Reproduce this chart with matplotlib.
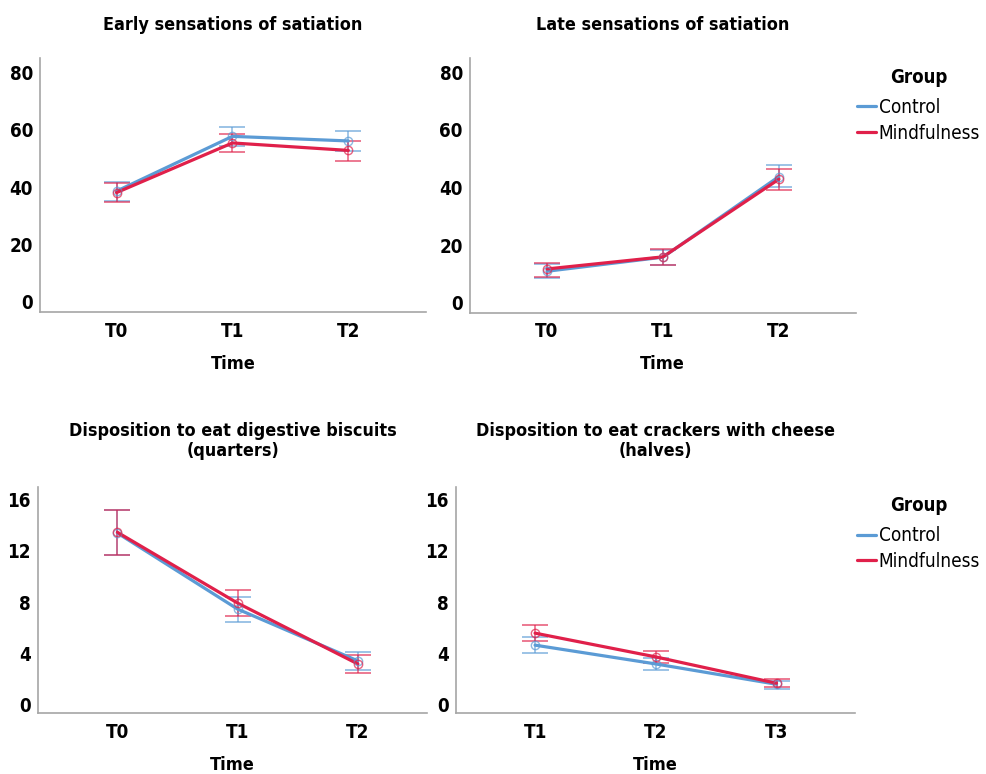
import matplotlib
matplotlib.use("Agg")
import matplotlib.pyplot as plt
from matplotlib import font_manager

# ---------------- data ----------------
times_a = ["T0", "T1", "T2"]
times_b = ["T1", "T2", "T3"]
groups = ["Control", "Mindfulness"]

early_control = [38.6, 57.7, 56.1]
early_control_lo = [35.1, 54.4, 52.5]
early_control_hi = [41.7, 61.0, 59.7]
early_mind = [38.1, 55.4, 52.8]
early_mind_lo = [34.8, 52.1, 49.0]
early_mind_hi = [41.5, 58.4, 56.2]

late_control = [10.9, 15.8, 43.8]
late_control_lo = [8.6, 13.2, 40.1]
late_control_hi = [13.5, 18.4, 47.8]
late_mind = [11.7, 15.9, 42.9]
late_mind_lo = [9.0, 13.1, 39.0]
late_mind_hi = [13.9, 18.5, 46.5]

bisc_control = [13.4, 7.45, 3.40]
bisc_control_lo = [11.66, 6.41, 2.72]
bisc_control_hi = [15.2, 8.39, 4.08]
bisc_mind = [13.46, 7.92, 3.16]
bisc_mind_lo = [11.71, 6.88, 2.48]
bisc_mind_hi = [15.24, 8.92, 3.84]

crack_control = [4.63, 3.16, 1.57]
crack_control_lo = [4.0, 2.69, 1.2]
crack_control_hi = [5.23, 3.66, 1.83]
crack_mind = [5.57, 3.71, 1.65]
crack_mind_lo = [4.94, 3.24, 1.39]
crack_mind_hi = [6.17, 4.21, 2.01]

titles = ["Early sensations of satiation",
          "Late sensations of satiation",
          "Disposition to eat digestive biscuits\n(quarters)",
          "Disposition to eat crackers with cheese\n(halves)"]
yticks_top = [0, 20, 40, 60, 80]
yticks_bot = [0, 4, 8, 12, 16]

# ---------------- fonts ----------------
def find_font(keys):
    for f in font_manager.fontManager.ttflist:
        base = f.fname.replace("\\", "/").split("/")[-1].lower()
        if base in keys:
            return f.fname
    return None

bold_file = find_font({"liberationsansnarrow-bold.ttf", "arialnarrow-bold.ttf",
                       "dejavusanscondensed-bold.ttf"})
reg_file = find_font({"liberationsansnarrow-regular.ttf", "arialnarrow.ttf",
                      "dejavusanscondensed.ttf"})
if bold_file and reg_file:
    REG_FP = font_manager.FontProperties(fname=reg_file)
    BOLD_FP = font_manager.FontProperties(fname=bold_file)
else:
    plt.rcParams["font.family"] = ["Liberation Sans", "DejaVu Sans"]
    REG_FP = font_manager.FontProperties(family=["Liberation Sans", "DejaVu Sans"])
    BOLD_FP = font_manager.FontProperties(family=["Liberation Sans", "DejaVu Sans"],
                                          weight="bold")


def bfp(size):
    fp = BOLD_FP.copy()
    fp.set_size(size)
    return fp


def rfp(size):
    fp = REG_FP.copy()
    fp.set_size(size)
    return fp


BLUE = "#5B9BD5"
RED = "#E0204A"
SPINE = "#A6A6A6"

fig = plt.figure(figsize=(9.86, 7.74), dpi=100)
W, H = 986.0, 774.0


def add_ax(l, r, t, b):
    return fig.add_axes([l / W, 1 - b / H, (r - l) / W, (b - t) / H])


axes = [add_ax(40, 426, 58, 312), add_ax(469.7, 855.5, 58, 312.7),
        add_ax(38, 427, 487, 713.3), add_ax(456, 855, 487, 713.3)]

panels = [
    (times_a, (early_control, early_control_lo, early_control_hi),
     (early_mind, early_mind_lo, early_mind_hi), yticks_top, (-3.5, 85), (-0.66, 2.67)),
    (times_a, (late_control, late_control_lo, late_control_hi),
     (late_mind, late_mind_lo, late_mind_hi), yticks_top, (-3.5, 85), (-0.666, 2.66)),
    (times_a, (bisc_control, bisc_control_lo, bisc_control_hi),
     (bisc_mind, bisc_mind_lo, bisc_mind_hi), yticks_bot, (-0.7, 17.0), (-0.66, 2.575)),
    (times_b, (crack_control, crack_control_lo, crack_control_hi),
     (crack_mind, crack_mind_lo, crack_mind_hi), yticks_bot, (-0.7, 17.0), (-0.655, 2.65)),
]

TICK = 13.5
XLAB = 13.0
TITLE = 12.9
LEG = 13.6
LEGT = 13.4

legend_tops = [None, 68, None, 496]

for i, (ax, (labels, ctrl, mind, yt, ylim, xlim)) in enumerate(zip(axes, panels)):
    x = list(range(len(labels)))
    for (m, lo, hi), col, name in ((ctrl, BLUE, groups[0]), (mind, RED, groups[1])):
        err = [[mv - l for mv, l in zip(m, lo)], [h - mv for mv, h in zip(m, hi)]]
        ax.errorbar(x, m, yerr=err, fmt="none", ecolor=col, elinewidth=1.2,
                    capsize=9.5, capthick=1.3, alpha=0.65, zorder=2)
        ax.plot(x, m, color=col, lw=2.3, zorder=3, label=name,
                solid_capstyle="round")
        ax.plot(x, m, ls="none", marker="o", ms=6, mfc="none", mec=col,
                mew=1.0, alpha=0.7, zorder=4)
    ax.set_xlim(*xlim)
    ax.set_ylim(*ylim)
    ax.set_xticks(x)
    ax.set_xticklabels(labels, fontproperties=bfp(TICK))
    ax.set_yticks(yt)
    ax.set_yticklabels([str(v) for v in yt], fontproperties=bfp(TICK))
    ax.tick_params(axis="both", length=0)
    ax.tick_params(axis="x", pad=7)
    ax.tick_params(axis="y", pad=5)
    for s in ("top", "right"):
        ax.spines[s].set_visible(False)
    for s in ("left", "bottom"):
        ax.spines[s].set_color(SPINE)
        ax.spines[s].set_linewidth(1.2)
    ax.set_xlabel("Time", fontproperties=bfp(XLAB), labelpad=10)
    pos = ax.get_position()
    cx = (pos.x0 + pos.x1) / 2
    if i < 2:
        fig.text(cx, 1 - 25 / H, titles[i], ha="center", va="center",
                 fontproperties=bfp(TITLE))
    else:
        fig.text(cx, 1 - 441 / H, titles[i], ha="center", va="center",
                 fontproperties=bfp(TITLE), linespacing=1.2)
    if legend_tops[i] is not None:
        leg = fig.legend(*ax.get_legend_handles_labels(), loc="upper left",
                         bbox_to_anchor=(857 / W, 1 - legend_tops[i] / H),
                         bbox_transform=fig.transFigure, frameon=False,
                         handlelength=1.0, handletextpad=0.15, labelspacing=0.35,
                         prop=rfp(LEG), title="Group",
                         title_fontproperties=bfp(LEGT),
                         borderaxespad=0.0, borderpad=0.0)
        leg._legend_box.sep = 8
        leg._legend_box.align = "center"

fig.savefig("out.png", dpi=100)
